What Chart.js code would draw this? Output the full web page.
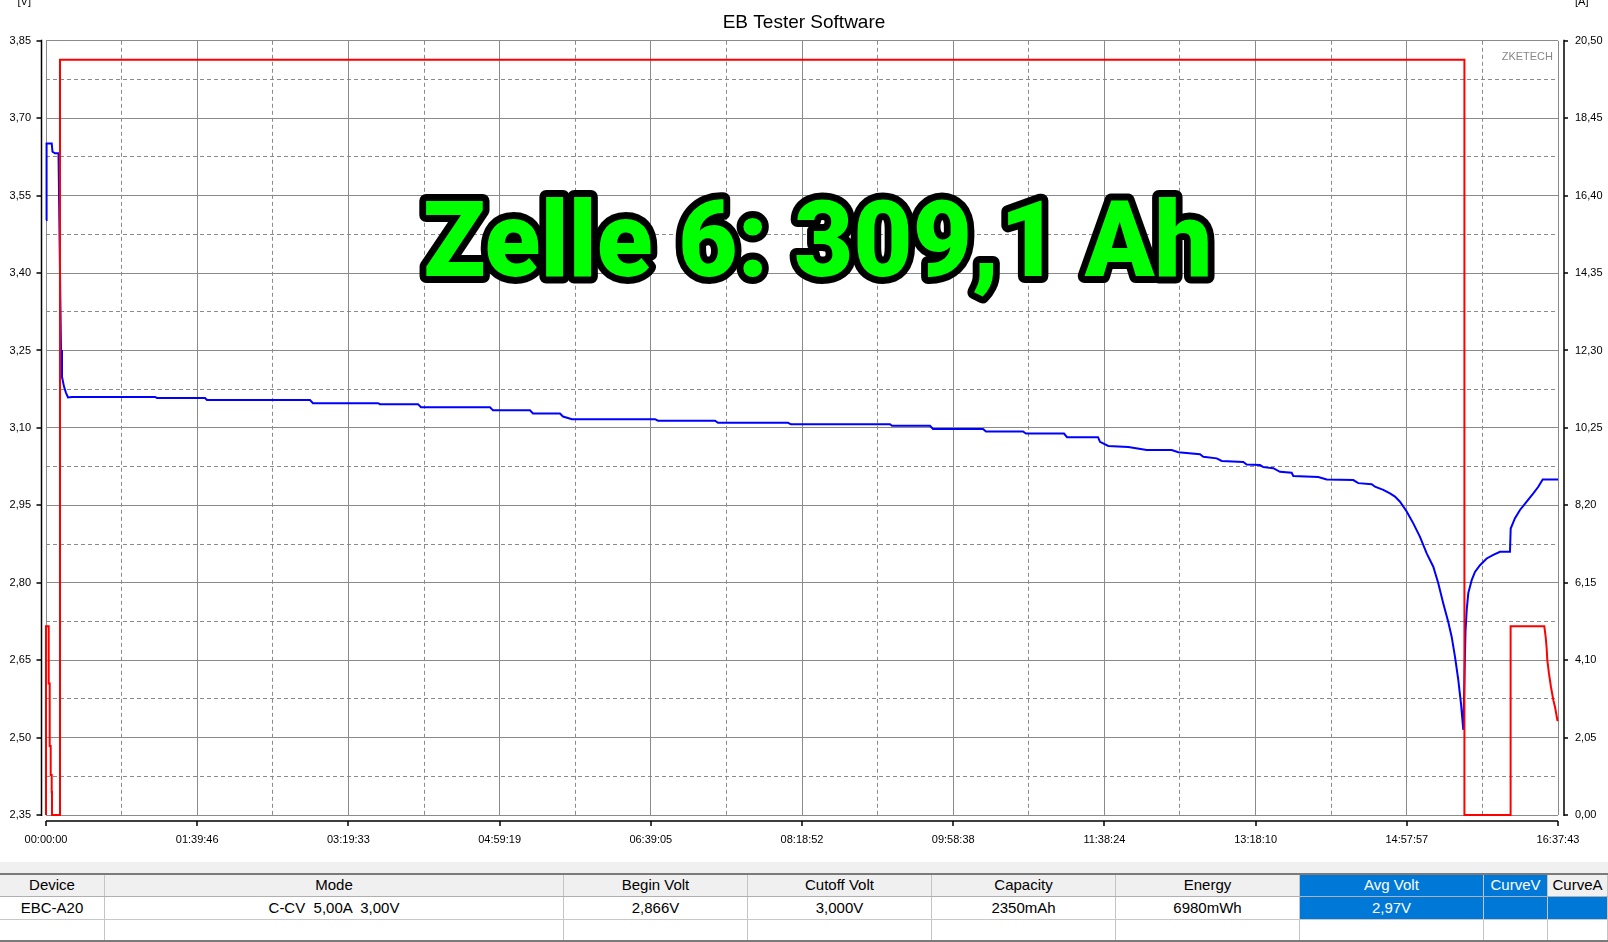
<!DOCTYPE html>
<html><head><meta charset="utf-8">
<script src="https://cdn.jsdelivr.net/npm/chart.js@4/dist/chart.umd.min.js"></script>
<style>
html,body{margin:0;padding:0;background:#fff;width:1608px;height:942px;overflow:hidden;}
#wrap{position:absolute;left:0;top:0;width:1608px;height:873px;}
#band{position:absolute;left:0;top:862px;width:1608px;height:11px;background:#f0f0f0;}
#tbl{position:absolute;left:0;top:873px;width:1608px;height:69px;font-family:'Liberation Sans',Arial,sans-serif;font-size:15px;color:#000;}
.cell{position:absolute;box-sizing:border-box;display:flex;align-items:center;justify-content:center;white-space:pre;border-right:1px solid #c4c4c4;}
.hline{position:absolute;left:0;width:1608px;}
</style></head>
<body>
<div id="band"></div>
<div id="wrap"><canvas id="c" width="1608" height="873"></canvas></div>
<div id="tbl"></div>
<script>
// ---------- DATA ----------
const timeTickLabels = ['00:00:00','01:39:46','03:19:33','04:59:19','06:39:05','08:18:52','09:58:38','11:38:24','13:18:10','14:57:57','16:37:43'];
const voltTickLabels = ['2,35','2,50','2,65','2,80','2,95','3,10','3,25','3,40','3,55','3,70','3,85'];
const ampTickLabels  = ['0,00','2,05','4,10','6,15','8,20','10,25','12,30','14,35','16,40','18,45','20,50'];

// voltage (blue), time in seconds
const voltTimes = [
  0,10,28,30,226,257,356,495,574,594,
  633,713,792,871,1029,4316,4395,6295,6374,10452,
  10571,13145,13224,14728,14847,17579,17698,19162,19281,20350,
  20469,20825,24112,24230,26487,26606,29377,29496,33416,33495,
  34999,35118,37098,37216,38681,38800,40305,40424,41651,41730,
  42058,42850,43579,44568,44830,45689,45820,46350,46548,47404,
  47538,48064,48195,48591,48856,49319,49383,50373,50705,51758,
  51956,52487,52617,52946,53211,53409,53607,53872,54134,54399,
  54664,54925,55123,55321,55519,55654,55784,55915,56022,56113,
  56200,56248,56311,56446,56576,56774,57040,57301,57566,57962,
  57990,58160,58358,58623,58885,59083,59257,59863];
const voltValues = [
  3.503,3.577,3.577,3.651,3.651,3.635,3.632,3.632,3.327,3.251,
  3.199,3.180,3.168,3.159,3.160,3.160,3.158,3.158,3.154,3.154,
  3.148,3.148,3.146,3.146,3.140,3.140,3.134,3.134,3.128,3.128,
  3.122,3.117,3.117,3.114,3.114,3.110,3.110,3.107,3.107,3.104,
  3.104,3.098,3.098,3.093,3.093,3.089,3.089,3.082,3.082,3.073,
  3.065,3.063,3.057,3.057,3.053,3.049,3.044,3.041,3.036,3.034,
  3.029,3.028,3.024,3.022,3.015,3.013,3.007,3.005,3.000,2.999,
  2.993,2.991,2.986,2.980,2.973,2.967,2.957,2.938,2.915,2.889,
  2.857,2.831,2.799,2.760,2.724,2.695,2.657,2.612,2.566,2.515,
  2.705,2.747,2.780,2.805,2.821,2.834,2.847,2.854,2.860,2.860,
  2.905,2.925,2.941,2.957,2.973,2.986,3.000,3.000];

// current (red)
const ampTimes  = [0,0,107,107,146,146,186,186,226,226,238,238,554,554,56158,56158,57987,57987,59320,59375,59415,59440,59505,59585,59680,59745,59840,59863];
const ampValues = [0,5.0,5.0,3.48,3.48,1.83,1.83,1.06,1.06,0.61,0.61,0,0,20.0,20.0,0,0,5.0,5.0,4.72,4.41,4.10,3.75,3.39,3.04,2.86,2.51,2.49];

const tableHeaders = ['Device','Mode','Begin Volt','Cutoff Volt','Capacity','Energy','Avg Volt','CurveV','CurveA'];
const tableValues  = ['EBC-A20','C-CV  5,00A  3,00V','2,866V','3,000V','2350mAh','6980mWh','2,97V','',''];
const overlayText = 'Zelle 6: 309,1 Ah';

// ---------- helpers ----------
const toSec = s => { const p = s.split(':').map(Number); return p[0]*3600+p[1]*60+p[2]; };
const toNum = s => parseFloat(s.replace(',', '.'));
const timeMajor = timeTickLabels.map(toSec);
const voltMajor = voltTickLabels.map(toNum);
const ampMajor  = ampTickLabels.map(toNum);
function withMid(arr){ const out=[]; arr.forEach((v,i)=>{ out.push(v); if(i<arr.length-1) out.push((v+arr[i+1])/2); }); return out; }

const FONT = "'Liberation Sans', Arial, sans-serif";
const GRID = '#8a8a8a';

const decoPlugin = {
  id:'deco',
  afterDraw(chart){
    const {ctx, chartArea:a, scales} = chart;
    ctx.save();
    ctx.strokeStyle='#000'; ctx.lineWidth=1.5;
    const L = a.left-4.5, R = a.right+6, B = a.bottom+6;
    ctx.beginPath();
    ctx.moveTo(L,a.top-1); ctx.lineTo(L,a.bottom+1);
    ctx.moveTo(R,a.top-1); ctx.lineTo(R,a.bottom+1);
    ctx.moveTo(a.left,B); ctx.lineTo(a.right,B);
    voltMajor.forEach(v=>{const p=Math.round(scales.y.getPixelForValue(v)); ctx.moveTo(L-5,p); ctx.lineTo(L,p);});
    ampMajor.forEach(v=>{const p=Math.round(scales.y1.getPixelForValue(v)); ctx.moveTo(R,p); ctx.lineTo(R+4,p);});
    timeMajor.forEach(v=>{const p=Math.round(scales.x.getPixelForValue(v)); ctx.moveTo(p,B); ctx.lineTo(p,B+5);});
    ctx.stroke();

    ctx.fillStyle='#000';
    ctx.font = '11px '+FONT;
    ctx.textBaseline='alphabetic';
    ctx.textAlign='right'; ctx.fillText('[V]', 31, 5);
    ctx.textAlign='left';  ctx.fillText('[A]', 1575, 5);

    ctx.fillStyle='#888';
    ctx.textAlign='right'; ctx.textBaseline='middle';
    ctx.fillText('ZKETECH', a.right-5, a.top+16);

    // big overlay label
    const left=426, right=1208, base=276, asc=79;
    ctx.textAlign='left'; ctx.textBaseline='alphabetic';
    ctx.font = '900 100px Roboto';
    let m = ctx.measureText(overlayText);
    const fs = 100*asc/m.actualBoundingBoxAscent;
    ctx.font = '900 '+fs.toFixed(2)+'px Roboto';
    m = ctx.measureText(overlayText);
    const w = m.actualBoundingBoxLeft + m.actualBoundingBoxRight;
    const sx = (right-left)/w;
    ctx.translate(left + m.actualBoundingBoxLeft*sx, base);
    ctx.scale(sx,1);
    ctx.lineJoin='round'; ctx.lineWidth=14; ctx.strokeStyle='#000';
    ctx.strokeText(overlayText,0,0);
    ctx.fillStyle='#00ff00';
    ctx.fillText(overlayText,0,0);
    ctx.restore();
  }
};

const gridDash = c => (c.index % 2 ? [4,3] : []);

new Chart(document.getElementById('c'), {
  type:'line',
  data:{ datasets:[
    { label:'Current', yAxisID:'y1', order:0,
      data: ampTimes.map((t,i)=>({x:t,y:ampValues[i]})),
      borderColor:'#ff0000', borderWidth:2, pointRadius:0, tension:0, clip:3 },
    { label:'Voltage', yAxisID:'y', order:1,
      data: voltTimes.map((t,i)=>({x:t,y:voltValues[i]})),
      borderColor:'#0000ff', borderWidth:2, pointRadius:0, tension:0, clip:3 }
  ]},
  options:{
    responsive:false, animation:false, devicePixelRatio:1,
    layout:{ padding:0 },
    plugins:{
      legend:{display:false}, tooltip:{enabled:false},
      title:{ display:true, text:'EB Tester Software', color:'#000',
        font:{family:FONT, size:19, weight:'normal', lineHeight:1.2},
        padding:{top:11, bottom:7} }
    },
    scales:{
      x:{ type:'linear', position:'bottom', min:timeMajor[0], max:timeMajor[timeMajor.length-1],
        afterBuildTicks: s => { s.ticks = withMid(timeMajor).map(v=>({value:v})); },
        afterFit: s => { s.height = 58; },
        grid:{ color:GRID, lineWidth:1, drawTicks:false },
        border:{ display:false, dash:gridDash },
        ticks:{ autoSkip:false, maxRotation:0, padding:18, color:'#000', font:{family:FONT,size:11},
          callback:(v,i)=> i%2===0 ? timeTickLabels[i/2] : '' } },
      y:{ type:'linear', position:'left', min:voltMajor[0], max:voltMajor[voltMajor.length-1],
        afterBuildTicks: s => { s.ticks = withMid(voltMajor).map(v=>({value:v})); },
        afterFit: s => { s.width = 46; },
        grid:{ color:GRID, lineWidth:1, drawTicks:false },
        border:{ display:false, dash:gridDash },
        ticks:{ autoSkip:false, padding:15, color:'#000', font:{family:FONT,size:11},
          callback:(v,i)=> i%2===0 ? voltTickLabels[i/2] : '' } },
      y1:{ type:'linear', position:'right', min:ampMajor[0], max:ampMajor[ampMajor.length-1],
        afterBuildTicks: s => { s.ticks = ampMajor.map(v=>({value:v})); },
        afterFit: s => { s.width = 50; },
        grid:{ display:false, drawTicks:false, drawOnChartArea:false },
        border:{ display:false },
        ticks:{ autoSkip:false, padding:17, color:'#000', font:{family:FONT,size:11},
          callback:(v,i)=> ampTickLabels[i] } }
    }
  },
  plugins:[decoPlugin]
});

// ---------- table ----------
(function(){
  const tbl = document.getElementById('tbl');
  const edges = [0,105,564,748,932,1116,1300,1484,1548,1608];
  const rows = [
    {top:0, h:23, vals:tableHeaders, bg:'#f0f0f0', blue:[6,7]},
    {top:23, h:23, vals:tableValues, bg:'#fff', blue:[6,7,8]},
    {top:46, h:22, vals:tableHeaders.map(()=>''), bg:'#fff', blue:[]}
  ];
  rows.forEach(r=>{
    r.vals.forEach((txt,i)=>{
      const d=document.createElement('div');
      d.className='cell';
      d.style.left=edges[i]+'px'; d.style.width=(edges[i+1]-edges[i])+'px';
      d.style.top=r.top+'px'; d.style.height=r.h+'px';
      const isBlue=r.blue.includes(i);
      d.style.background = isBlue ? '#0078d7' : r.bg;
      d.style.color = isBlue ? '#fff' : '#000';
      d.textContent=txt;
      tbl.appendChild(d);
    });
  });
  [[0,2,'#7a7a7a'],[23,1,'#b0b0b0'],[46,1,'#c8c8c8'],[67,2,'#7a7a7a']].forEach(([y,h,c])=>{
    const l=document.createElement('div'); l.className='hline';
    l.style.top=y+'px'; l.style.height=h+'px'; l.style.background=c; tbl.appendChild(l);
  });
})();
</script>
</body></html>
